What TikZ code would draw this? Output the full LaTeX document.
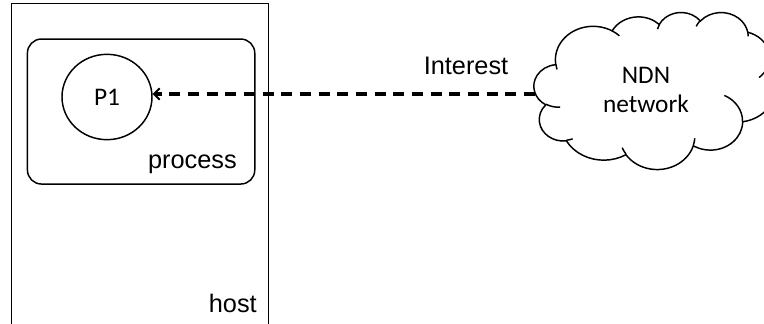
\documentclass[tikz,border=0pt]{standalone}
\usepackage{fontspec}
\setmainfont{Liberation Sans}
\newfontfamily\calibrifont{Carlito}
\usetikzlibrary{arrows.meta,shapes.geometric}

% one drawing unit = one pixel of a 764 x 324 canvas, y pointing down
\tikzset{
  outline/.style={draw=black, line width=1.1pt},
  hostbox/.style={outline, rectangle, anchor=north west, inner sep=0pt,
    minimum width=192.75pt, minimum height=260pt},
  processbox/.style={outline, rectangle, rounded corners=10.5pt, anchor=north west,
    inner sep=0pt, minimum width=170.5pt, minimum height=108.75pt},
  procnode/.style={outline, ellipse, inner sep=0pt, minimum width=67.5pt,
    minimum height=64pt, font=\calibrifont\fontsize{19}{22}\selectfont},
  arialtext/.style={inner sep=0pt, font=\fontsize{19}{22}\selectfont},
  cloudtext/.style={inner sep=0pt, align=center,
    font=\calibrifont\fontsize{19}{21.75}\selectfont},
  interestflow/.style={draw=black, line width=2.4pt,
    dash pattern=on 8.2pt off 5.8pt,
    -{Straight Barb[length=4.2pt,width=8.5pt,line width=1.4pt]}},
}

\begin{document}
\begin{tikzpicture}[x=0.75pt, y=-0.75pt,
  declare function={
    pa(\a,\p,\q)=atan2(\p*sin(\a),\q*cos(\a))
      +360*round((\a-atan2(\p*sin(\a),\q*cos(\a)))/360);
  }]
\path[use as bounding box] (0,0) rectangle (764,324);
\clip (0,0) rectangle (764,324);

% host and process containers
\node[hostbox] (host) at (11,3) {};
\node[processbox] (process) at (26.7,38.3) {};
\node[arialtext, anchor=base east] (hostlabel) at (257,312.7) {host};
\node[arialtext, anchor=base east] (processlabel) at (237,168.3) {process};

% the process itself
\node[procnode] (p1) at (107,97) {P1};

% cloud outline: eleven puffs of elliptical arcs plus the inner creases
\begin{scope}[shift={(534,12)}, xscale=241/432, yscale=157/432]
  \draw[outline]
    (39.00,143.70)
    arc[x radius=67.53, y radius=91.90, start angle={pa(-190.487,67.53,91.90)}, end angle={pa(-66.707,67.53,91.90)}]
    arc[x radius=53.33, y radius=72.67, start angle={pa(-144.102,53.33,72.67)}, end angle={pa(-54.157,53.33,72.67)}]
    arc[x radius=43.65, y radius=59.45, start angle={pa(-145.808,43.65,59.45)}, end angle={pa(-46.085,43.65,59.45)}]
    arc[x radius=48.57, y radius=65.95, start angle={pa(-130.986,48.57,65.95)}, end angle={pa(-13.744,48.57,65.95)}]
    arc[x radius=53.33, y radius=72.73, start angle={pa(-78.709,53.33,72.73)}, end angle={pa(30.318,53.33,72.73)}]
    arc[x radius=67.75, y radius=92.20, start angle={pa(-46.267,67.75,92.20)}, end angle={pa(84.002,67.75,92.20)}]
    arc[x radius=57.85, y radius=78.67, start angle={pa(0.625,57.85,78.67)}, end angle={pa(114.658,57.85,78.67)}]
    arc[x radius=67.52, y radius=92.15, start angle={pa(22.452,67.52,92.15)}, end angle={pa(137.624,67.52,92.15)}]
    arc[x radius=77.20, y radius=105.43, start angle={pa(66.243,77.20,105.43)}, end angle={pa(141.954,77.20,105.43)}]
    arc[x radius=43.60, y radius=59.18, start angle={pa(-274.942,43.60,59.18)}, end angle={pa(-128.206,43.60,59.18)}]
    arc[x radius=43.45, y radius=59.45, start angle={pa(-246.829,43.45,59.45)}, end angle={pa(-94.310,43.45,59.45)}]
    -- cycle;
  \draw[outline]
    (46.93,261.77) arc[x radius=43.45, y radius=59.45, start angle={pa(86.742,43.45,59.45)}, end angle={pa(113.172,43.45,59.45)}]
    (69.28,348.99) arc[x radius=43.60, y radius=59.18, start angle={pa(73.611,43.60,59.18)}, end angle={pa(85.058,43.60,59.18)}]
    (164.78,390.90) arc[x radius=67.52, y radius=92.15, start angle={pa(137.624,67.52,92.15)}, end angle={pa(151.705,67.52,92.15)}]
    (288.27,347.51) arc[x radius=67.52, y radius=92.15, start angle={pa(6.453,67.52,92.15)}, end angle={pa(22.452,67.52,92.15)}]
    (341.29,229.54) arc[x radius=57.85, y radius=78.67, start angle={pa(-70.292,57.85,78.67)}, end angle={pa(0.625,57.85,78.67)}]
    (417.98,153.54) arc[x radius=53.33, y radius=72.73, start angle={pa(30.318,53.33,72.73)}, end angle={pa(58.070,53.33,72.73)}]
    (383.24,54.26) arc[x radius=48.57, y radius=65.95, start angle={pa(-13.744,48.57,65.95)}, end angle={pa(1.115,48.57,65.95)}]
    (290.78,39.52) arc[x radius=48.57, y radius=65.95, start angle={pa(-149.181,48.57,65.95)}, end angle={pa(-130.986,48.57,65.95)}]
    (221.41,47.20) arc[x radius=43.65, y radius=59.45, start angle={pa(-163.494,43.65,59.45)}, end angle={pa(-145.808,43.65,59.45)}]
    (140.00,51.92) arc[x radius=67.53, y radius=91.90, start angle={pa(-66.707,67.53,91.90)}, end angle={pa(-54.388,67.53,91.90)}]
    (41.27,157.89) arc[x radius=67.53, y radius=91.90, start angle={pa(157.654,67.53,91.90)}, end angle={pa(169.513,67.53,91.90)}];
\end{scope}
\coordinate (ndn) at (535,94);
\node[cloudtext] (ndnlabel) at (646,89.5) {NDN\\network};

% Interest sent from the network to the process
\draw[interestflow] (ndn) -- (ndn -| p1.east);
\node[arialtext, anchor=base] (interest) at (466,75) {Interest};
\end{tikzpicture}
\end{document}
